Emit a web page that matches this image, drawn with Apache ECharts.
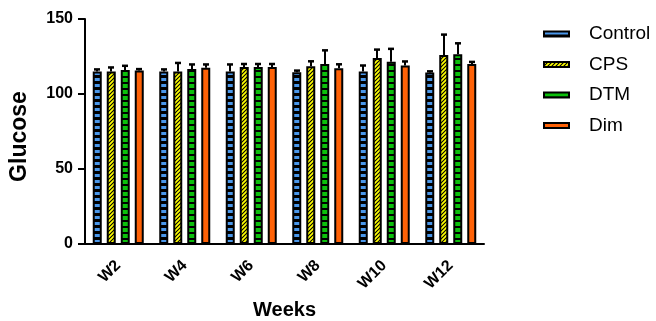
<!DOCTYPE html>
<html>
<head>
<meta charset="utf-8">
<script src="https://cdn.jsdelivr.net/npm/echarts@6/dist/echarts.min.js"></script>
<style>html,body{margin:0;padding:0;background:#fff;}#c{width:656px;height:321px;}</style>
</head>
<body>
<div id="c"></div>
<script>
var weeks = ['W2', 'W4', 'W6', 'W8', 'W10', 'W12'];
var yTicks = [0, 50, 100, 150];
var seriesNames = ['Control', 'CPS', 'DTM', 'Dim'];
var controlMean = [115, 115, 115, 114.5, 115, 114.3];
var controlErr  = [1.4, 1.4, 4.7, 1.1, 4.0, 0.8];
var cpsMean = [115, 115, 118, 118.5, 124, 126];
var cpsErr  = [2.7, 5.7, 2.0, 3.3, 5.6, 13.6];
var dtmMean = [116, 116.7, 118, 120, 121.5, 126.5];
var dtmErr  = [2.8, 3.0, 2.0, 9.1, 8.6, 7.3];
var dimMean = [115.7, 117.5, 118, 117.2, 119, 120];
var dimErr  = [0.9, 2.2, 2.0, 2.6, 2.7, 1.4];

function makePattern(kind) {
  var c = document.createElement('canvas');
  var ctx;
  if (kind === 'control') {
    c.width = 6; c.height = 6; ctx = c.getContext('2d');
    ctx.fillStyle = '#000'; ctx.fillRect(0, 0, 6, 6);
    ctx.fillStyle = '#4a97ea'; ctx.fillRect(0, 0, 6, 3);
  } else if (kind === 'cps') {
    c.width = 4; c.height = 4; ctx = c.getContext('2d');
    ctx.fillStyle = '#ffff00'; ctx.fillRect(0, 0, 4, 4);
    ctx.strokeStyle = '#000'; ctx.lineWidth = 1.1;
    ctx.beginPath();
    ctx.moveTo(-1, 5); ctx.lineTo(5, -1);
    ctx.moveTo(-1, 1); ctx.lineTo(1, -1);
    ctx.moveTo(3, 5); ctx.lineTo(5, 3);
    ctx.stroke();
  } else if (kind === 'dtm') {
    c.width = 6; c.height = 6; ctx = c.getContext('2d');
    ctx.fillStyle = '#000'; ctx.fillRect(0, 0, 6, 6);
    ctx.fillStyle = '#0cbf0c'; ctx.fillRect(0, 0, 6, 4);
  }
  return { image: c, repeat: 'repeat' };
}

var fills = [makePattern('control'), makePattern('cps'), makePattern('dtm'), '#ff6207'];
var means = [controlMean, cpsMean, dtmMean, dimMean];
var errs = [controlErr, cpsErr, dtmErr, dimErr];

var BAR_W = 9, STEP = 14;

function errRender(offset) {
  return function (params, api) {
    var base = api.coord([api.value(0), api.value(1)]);
    var top = api.coord([api.value(0), api.value(2)]);
    var cx = Math.round(base[0] + offset);
    return {
      type: 'group',
      children: [
        { type: 'line', shape: { x1: cx, y1: base[1], x2: cx, y2: top[1] }, style: { stroke: '#000', lineWidth: 2 } },
        { type: 'line', shape: { x1: cx - 3, y1: top[1], x2: cx + 3, y2: top[1] }, style: { stroke: '#000', lineWidth: 2.5 } }
      ]
    };
  };
}

var series = [];
seriesNames.forEach(function (name, i) {
  series.push({
    name: name,
    type: 'bar',
    data: means[i],
    barWidth: BAR_W,
    barGap: ((STEP - BAR_W) / BAR_W * 100) + '%',
    itemStyle: { color: fills[i], borderColor: '#000', borderWidth: 2 },
    z: 2
  });
});
seriesNames.forEach(function (name, i) {
  var d = means[i].map(function (m, k) { return [k, m, m + errs[i][k]]; });
  series.push({
    name: name + ' SD',
    type: 'custom',
    renderItem: errRender((i - 1.5) * STEP),
    data: d,
    encode: { x: 0, y: 2 },
    z: 3,
    silent: true
  });
});

var FONT = 'Liberation Sans, Arial, sans-serif';
var chart = echarts.init(document.getElementById('c'), null, { renderer: 'canvas' });
chart.setOption({
  animation: false,
  backgroundColor: '#fff',
  grid: { left: 85, right: 172, top: 19, bottom: 77, containLabel: false, outerBoundsMode: 'none' },
  legend: {
    data: seriesNames,
    orient: 'vertical',
    left: 538,
    top: 19,
    icon: 'rect',
    itemWidth: 25,
    itemHeight: 5,
    itemGap: 10.5,
    itemStyle: { borderColor: '#000', borderWidth: 2 },
    textStyle: { fontFamily: FONT, fontSize: 19, color: '#000', lineHeight: 20, padding: [0, 0, 0, 15] }
  },
  xAxis: {
    type: 'category',
    data: weeks,
    name: 'Weeks',
    nameLocation: 'middle',
    nameGap: 56,
    nameTextStyle: { fontFamily: FONT, fontSize: 20, fontWeight: 'bold', color: '#000' },
    axisLine: { lineStyle: { color: '#000', width: 2 } },
    axisTick: { alignWithLabel: true, length: 5, lineStyle: { color: '#000', width: 2 } },
    axisLabel: { rotate: 45, margin: 19, fontFamily: FONT, fontSize: 16, fontWeight: 'bold', color: '#000' }
  },
  yAxis: {
    type: 'value',
    min: yTicks[0],
    max: yTicks[yTicks.length - 1],
    interval: yTicks[1] - yTicks[0],
    name: 'Glucose',
    nameLocation: 'middle',
    nameGap: 54,
    nameTextStyle: { fontFamily: FONT, fontSize: 23, fontWeight: 'bold', color: '#000', padding: [0, 10, 0, 0] },
    axisLine: { show: true, lineStyle: { color: '#000', width: 2 } },
    axisTick: { show: true, length: 7, lineStyle: { color: '#000', width: 2 } },
    splitLine: { show: false },
    axisLabel: { margin: 12, fontFamily: FONT, fontSize: 16, fontWeight: 'bold', color: '#000' }
  },
  series: series
});
</script>
</body>
</html>
